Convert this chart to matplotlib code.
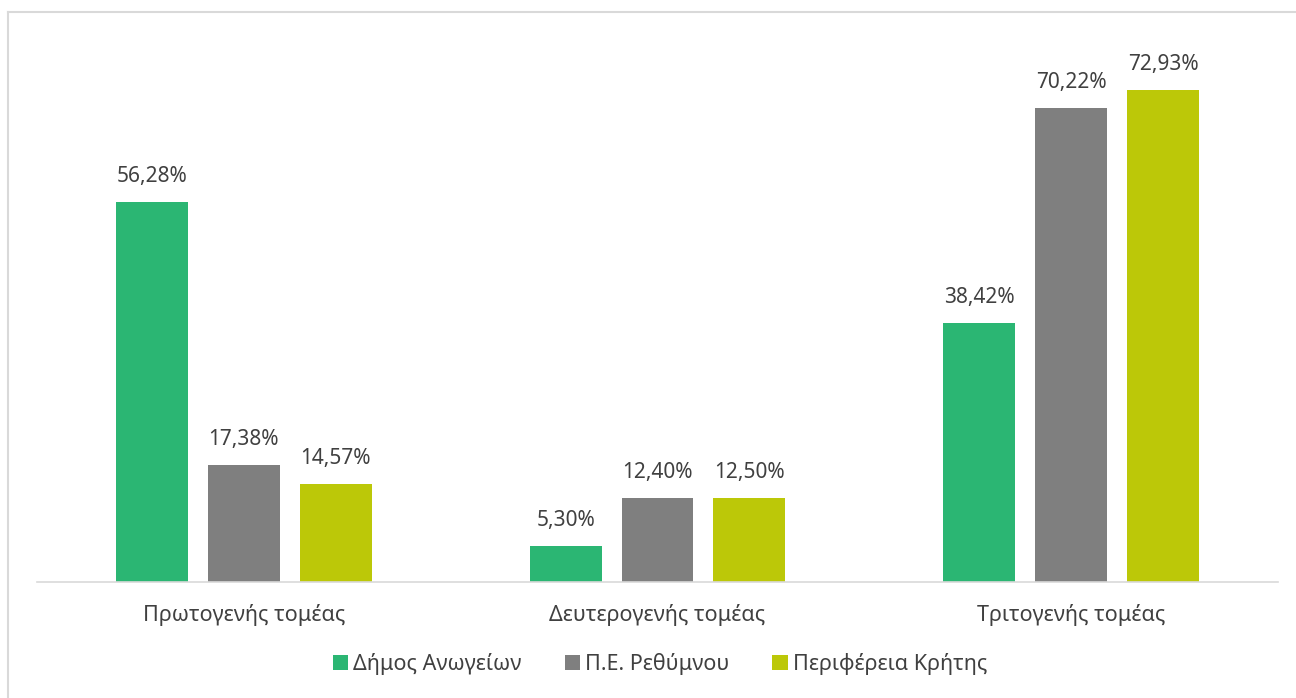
import matplotlib
matplotlib.use("Agg")
import matplotlib.pyplot as plt
from matplotlib.lines import Line2D
import numpy as np

categories = ["Πρωτογενής τομέας", "Δευτερογενής τομέας", "Τριτογενής τομέας"]
series_names = ["Δήμος Ανωγείων", "Π.Ε. Ρεθύμνου", "Περιφέρεια Κρήτης"]
dimos = [56.28, 5.30, 38.42]
pe = [17.38, 12.40, 70.22]
periferia = [14.57, 12.50, 72.93]
colors = ["#2BB673", "#7F7F7F", "#BCC808"]

plt.rcParams['font.family'] = ['Noto Sans', 'DejaVu Sans']

W, H = 1296, 698
fig = plt.figure(figsize=(W/100, H/100), dpi=100)
fig.lines.append(Line2D([8/W, 1.0], [(H-12)/H, (H-12)/H], transform=fig.transFigure,
                        color="#D9D9D9", linewidth=1.5))
fig.lines.append(Line2D([8/W, 8/W], [0, (H-12)/H], transform=fig.transFigure,
                        color="#D9D9D9", linewidth=1.5))
ax = fig.add_axes([37/W, (H-582)/H, (1278-37)/W, 540/H])

x = np.arange(len(categories))
bw = 0.174
off = 0.222
for i, (vals, c, name) in enumerate(zip([dimos, pe, periferia], colors, series_names)):
    bars = ax.bar(x + (i-1)*off, vals, width=bw, color=c, label=name, zorder=2)
    for b, v in zip(bars, vals):
        ax.text(b.get_x()+b.get_width()/2, v + 2.2, f"{v:.2f}%".replace(".", ","),
                ha="center", va="bottom", fontsize=15, color="#404040")

ax.set_xlim(-0.5, 2.5)
ax.set_ylim(0, 80)
ax.set_yticks([])
ax.set_xticks(x)
ax.set_xticklabels(categories, fontsize=15.5, color="#404040")
ax.tick_params(axis="x", length=0, pad=16)
for s in ["top", "right", "left"]:
    ax.spines[s].set_visible(False)
ax.spines["bottom"].set_color("#D9D9D9")
ax.spines["bottom"].set_linewidth(1.2)

fig.legend(loc="center", bbox_to_anchor=(660/W, (H-664)/H), ncol=3, frameon=False,
           fontsize=15.5, labelcolor="#404040", handlelength=0.7, handleheight=0.7,
           handletextpad=0.25, columnspacing=2.0)

fig.savefig("out.png", dpi=100)
